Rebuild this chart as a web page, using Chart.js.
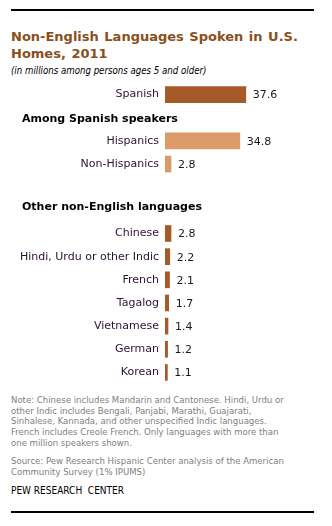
<!DOCTYPE html>
<html>
<head>
<meta charset="utf-8">
<script src="https://cdn.jsdelivr.net/npm/chart.js@4.4.1/dist/chart.umd.min.js"></script>
<style>
  body { margin: 0; background: #fff; width: 332px; height: 526px; position: relative; overflow: hidden; font-family: "DejaVu Sans", sans-serif; }
  .rule { position: absolute; left: 11px; width: 303px; height: 0; border-top: 2px solid #000; }
  .txt { position: absolute; left: 11px; white-space: pre; }
  #title { top: 28px; font-size: 13px; font-weight: bold; color: #8a4f1c; line-height: 17px; word-spacing: 1px; }
  #sub { top: 65px; font-size: 9.6px; font-style: italic; font-family: "DejaVu Sans Condensed", sans-serif; color: #000; line-height: 11px; }
  #note { top: 395px; font-size: 9.5px; font-family: "DejaVu Sans Condensed", sans-serif; color: #808080; line-height: 10.7px; }
  #source { top: 456px; font-size: 9.5px; font-family: "DejaVu Sans Condensed", sans-serif; color: #808080; line-height: 10.7px; }
  #pew { top: 486px; font-size: 10px; font-family: "DejaVu Sans Condensed", sans-serif; color: #000; line-height: 10px; }
  .wrap { position: absolute; left: 0; top: 83px; width: 332px; height: 301px; }
</style>
</head>
<body>
<div class="rule" style="top:9px"></div>
<div class="txt" id="title">Non-English Languages Spoken in U.S.
Homes, 2011</div>
<div class="txt" id="sub">(in millions among persons ages 5 and older)</div>
<div class="wrap"><canvas id="myChart"></canvas></div>
<div class="txt" id="note">Note: Chinese includes Mandarin and Cantonese. Hindi, Urdu or
other Indic includes Bengali, Panjabi, Marathi, Guajarati,
Sinhalese, Kannada, and other unspecified Indic languages.
French includes Creole French. Only languages with more than
one million speakers shown.</div>
<div class="txt" id="source">Source: Pew Research Hispanic Center analysis of the American
Community Survey (1% IPUMS)</div>
<div class="txt" id="pew">PEW RESEARCH  CENTER</div>
<div class="rule" style="top:511px"></div>

<script>
// rows of the chart, top to bottom (headers and a blank spacer take a row too)
const categories = ['Spanish', 'Among Spanish speakers', 'Hispanics', 'Non-Hispanics', '',
    'Other non-English languages', 'Chinese', 'Hindi, Urdu or other Indic', 'French',
    'Tagalog', 'Vietnamese', 'German', 'Korean'];
const speakers = [37.6, null, 34.8, 2.8, null, null, 2.8, 2.2, 2.1, 1.7, 1.4, 1.2, 1.1];
const headers = ['Among Spanish speakers', 'Other non-English languages'];
const amongSpanish = ['Hispanics', 'Non-Hispanics'];

// draw the section headers and the numbers after each bar
const extras = {
    id: 'extras',
    afterDatasetsDraw(chart) {
        const c = chart.ctx;
        const y = chart.scales.y;
        c.save();
        c.textBaseline = 'middle';
        c.font = 'bold 11px "DejaVu Sans"';
        c.fillStyle = '#000';
        c.textAlign = 'left';
        headers.forEach(h => {
            const i = categories.indexOf(h);
            c.fillText(h, 22, y.getPixelForValue(i) + (i > 2 ? -3 : 1));
        });
        c.font = '11px "DejaVu Sans"';
        c.fillStyle = '#1a1a1a';
        chart.getDatasetMeta(0).data.forEach((bar, i) => {
            if (speakers[i] == null) return;
            c.fillText(speakers[i].toFixed(1), bar.x + 7, bar.y + 1);
        });
        c.restore();
    }
};

const ctx = document.getElementById('myChart').getContext('2d');
const myChart = new Chart(ctx, {
    type: 'bar',
    data: {
        labels: categories,
        datasets: [{
            data: speakers,
            backgroundColor: c => amongSpanish.includes(categories[c.dataIndex]) ? '#dc996a' : '#a65a28',
            barThickness: 16,
            borderWidth: 0
        }]
    },
    options: {
        indexAxis: 'y',
        responsive: true,
        maintainAspectRatio: false,
        animation: false,
        layout: { padding: { left: 0, right: 38, top: 0, bottom: 0 } },
        plugins: { legend: { display: false }, tooltip: { enabled: false } },
        scales: {
            x: { display: false, min: 0, max: 60 },
            y: {
                grid: { display: false, drawTicks: false },
                border: { display: false },
                ticks: {
                    padding: 6,
                    color: '#2b1133',
                    font: { family: 'DejaVu Sans', size: 11 },
                    callback: (v, i) => headers.includes(categories[i]) ? '' : categories[i]
                },
                afterFit: s => { s.width = 165; s.paddingTop = 0; s.paddingBottom = 0; }
            }
        }
    },
    plugins: [extras]
});
</script>
</body>
</html>
